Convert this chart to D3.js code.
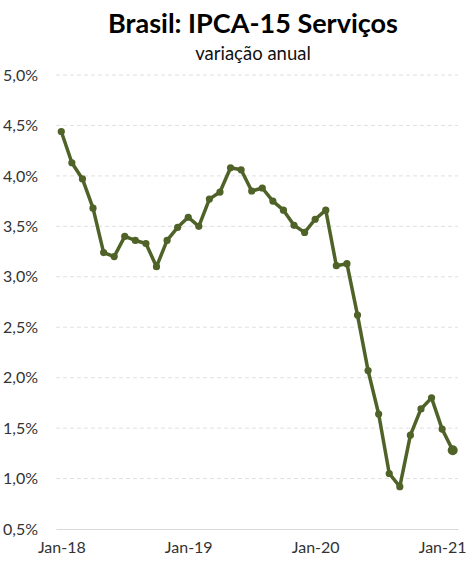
<!DOCTYPE html>
<html>
<head>
<meta charset="utf-8">
<script src="https://cdn.jsdelivr.net/npm/d3@7"></script>
<style>
html,body{margin:0;padding:0;background:#fff;}
svg{display:block;}
</style>
</head>
<body>
<svg id="chart" width="473" height="567"></svg>
<script>
const titleText = "Brasil: IPCA-15 Serviços";
const subtitleText = "variação anual";
const months = ["Jan-18","Feb-18","Mar-18","Apr-18","May-18","Jun-18","Jul-18","Aug-18","Sep-18","Oct-18","Nov-18","Dec-18",
  "Jan-19","Feb-19","Mar-19","Apr-19","May-19","Jun-19","Jul-19","Aug-19","Sep-19","Oct-19","Nov-19","Dec-19",
  "Jan-20","Feb-20","Mar-20","Apr-20","May-20","Jun-20","Jul-20","Aug-20","Sep-20","Oct-20","Nov-20","Dec-20",
  "Jan-21","Feb-21"];
const values = [4.44,4.13,3.97,3.68,3.24,3.20,3.40,3.36,3.33,3.10,3.36,3.49,
  3.59,3.50,3.77,3.84,4.08,4.06,3.85,3.88,3.75,3.66,3.51,3.44,
  3.57,3.66,3.11,3.13,2.62,2.07,1.64,1.05,0.92,1.43,1.69,1.80,
  1.49,1.28];
const xTickLabels = ["Jan-18","Jan-19","Jan-20","Jan-21"];
const yTicks = [0.5,1.0,1.5,2.0,2.5,3.0,3.5,4.0,4.5,5.0];

const font = "Lato, 'Open Sans', sans-serif";
const lineColor = "#4f6228";
const svg = d3.select("#chart");

const x = d3.scaleLinear().domain([-0.5, months.length - 0.5]).range([56, 458]);
const y = d3.scaleLinear().domain([0.5, 5.0]).range([529, 75]);

// title
svg.append("text").attr("x", 253).attr("y", 33).attr("text-anchor", "middle")
  .attr("font-family", font).attr("font-weight", "bold").attr("font-size", 27)
  .attr("fill", "#000").text(titleText);
svg.append("text").attr("x", 253).attr("y", 60).attr("text-anchor", "middle")
  .attr("font-family", font).attr("font-size", 18.5).attr("fill", "#111").text(subtitleText);

// gridlines
svg.append("g").selectAll("line").data(yTicks.filter(d => d > 0.5)).join("line")
  .attr("x1", 56).attr("x2", 458)
  .attr("y1", d => y(d)).attr("y2", d => y(d))
  .attr("stroke", "#e0e0e0").attr("stroke-width", 1).attr("stroke-dasharray", "4,3");

// y axis
const yAxis = d3.axisLeft(y).tickValues(yTicks).tickSize(0).tickPadding(0)
  .tickFormat(d => d.toFixed(1).replace(".", ",") + "%");
const gy = svg.append("g").attr("transform", "translate(38,0)").call(yAxis);
gy.select(".domain").remove();
gy.selectAll("text").attr("font-family", font).attr("font-size", 16).attr("fill", "#333");

// x axis
const xAxis = d3.axisBottom(x)
  .tickValues(xTickLabels.map(l => months.indexOf(l)))
  .tickSize(0).tickPadding(13)
  .tickFormat(i => months[i]);
const gx = svg.append("g").attr("transform", "translate(0,529)").call(xAxis);
gx.select(".domain").attr("stroke", "#d9d9d9").attr("stroke-width", 1.2);
gx.selectAll("text").attr("font-family", font).attr("font-size", 16).attr("fill", "#333");

// line
const line = d3.line().x((d, i) => x(i)).y(d => y(d));
svg.append("path").datum(values).attr("d", line)
  .attr("fill", "none").attr("stroke", lineColor).attr("stroke-width", 3.5)
  .attr("stroke-linejoin", "round");

svg.append("g").selectAll("circle").data(values).join("circle")
  .attr("cx", (d, i) => x(i)).attr("cy", d => y(d))
  .attr("r", (d, i) => i === values.length - 1 ? 5 : 3.6)
  .attr("fill", lineColor);
</script>
</body>
</html>
